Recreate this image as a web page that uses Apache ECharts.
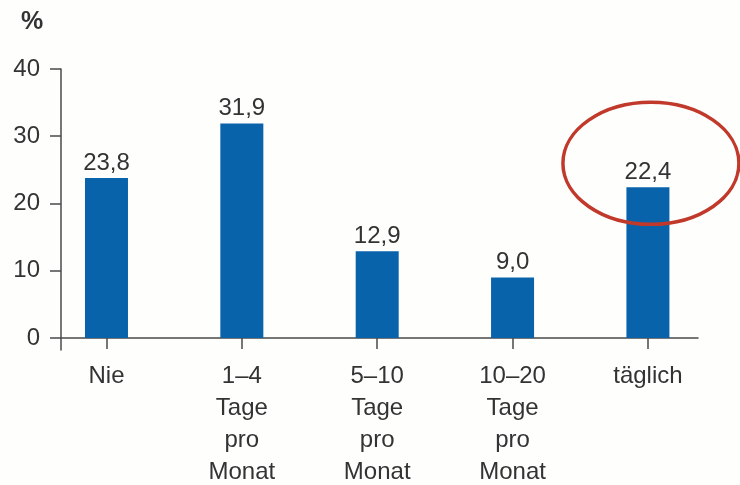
<!DOCTYPE html>
<html>
<head>
<meta charset="utf-8">
<script src="https://cdn.jsdelivr.net/npm/echarts@6/dist/echarts.min.js"></script>
<style>
html,body{margin:0;padding:0;background:#fefefd;}
#main{width:740px;height:485px;}
</style>
</head>
<body>
<div id="main"></div>
<script>
const categories = ['Nie', '1–4\nTage\npro\nMonat', '5–10\nTage\npro\nMonat', '10–20\nTage\npro\nMonat', 'täglich'];
const values = [23.8, 31.9, 12.9, 9.0, 22.4];
const yTicks = [0, 10, 20, 30, 40];
const highlightIndex = 4;

const textColor = '#333333';
const fontFamily = '"Liberation Sans", Arial, sans-serif';
const idx = categories.map((c, i) => i);

const chart = echarts.init(document.getElementById('main'));
chart.setOption({
  backgroundColor: '#fefefd',
  animation: false,
  title: {
    text: '%', left: 16, top: 5,
    textStyle: { fontSize: 25, fontWeight: 'bold', color: textColor, fontFamily: fontFamily }
  },
  grid: { left: 61, right: 42, top: 69, bottom: 135, containLabel: false, outerBoundsMode: 'none' },
  xAxis: {
    type: 'value',
    min: -0.336, max: 4.37,
    splitLine: { show: false },
    axisLine: { show: true, onZero: true, lineStyle: { color: '#4a4a4a', width: 1.5 } },
    axisTick: { show: true, customValues: idx, length: 11, lineStyle: { color: '#4a4a4a', width: 1.5 } },
    axisLabel: {
      customValues: idx,
      formatter: v => categories[Math.round(v)] ?? '',
      color: textColor, fontSize: 24, lineHeight: 32, fontFamily: fontFamily,
      margin: 10, align: 'center', verticalAlign: 'top'
    }
  },
  yAxis: {
    type: 'value',
    min: -1.8, max: 40,
    splitLine: { show: false },
    axisLine: { show: true, onZero: false, lineStyle: { color: '#4a4a4a', width: 1.5 } },
    axisTick: { show: true, customValues: yTicks, length: 11, lineStyle: { color: '#4a4a4a', width: 1.5 } },
    axisLabel: {
      customValues: yTicks,
      color: textColor, fontSize: 24, fontFamily: fontFamily, margin: 21
    }
  },
  series: [{
    type: 'bar',
    data: values.map((v, i) => [i, v]),
    barWidth: 43,
    itemStyle: { color: '#0863ab' },
    label: {
      show: true, position: 'top', distance: 3,
      formatter: p => p.value[1].toFixed(1).replace('.', ','),
      color: textColor, fontSize: 24, fontFamily: fontFamily
    }
  }]
});

const pt = chart.convertToPixel({ seriesIndex: 0 }, [highlightIndex, values[highlightIndex]]);
chart.setOption({
  graphic: [{
    type: 'ellipse',
    shape: { cx: pt[0] + 3, cy: pt[1] - 24, rx: 88, ry: 61 },
    style: { fill: 'none', stroke: '#c0392b', lineWidth: 3.5 },
    z: 100
  }]
});
</script>
</body>
</html>
